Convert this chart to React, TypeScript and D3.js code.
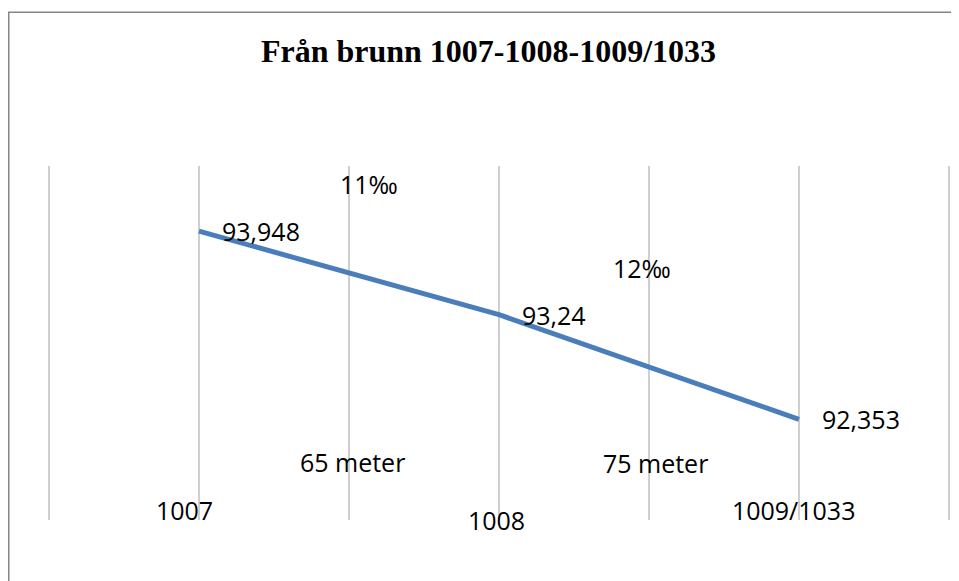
import React from "react";
import * as d3 from "d3";

// Brunnar längs ledningen och bottennivå (m)
const wells = ["1007", "1008", "1009/1033"];
const positions = [1, 3, 5];
const levels = [93.948, 93.24, 92.353];

// Fria textetiketter (x i brunnsteg, y i meter)
const noteTexts = ["11‰", "12‰", "65 meter", "75 meter", "1007", "1008", "1009/1033"];
const noteX = [1.94, 3.76, 1.673, 3.693, 0.713, 2.793, 4.553];
const noteY = [94.263, 93.551, 91.907, 91.898, 91.5, 91.415, 91.5];

const gridSteps = [0, 1, 2, 3, 4, 5, 6];

const width = 951;
const height = 573;
const plot = { left: 41, right: 941, top: 158, bottom: 512 };
const labelFont = "'Open Sans', 'Noto Sans', sans-serif";

export default function App() {
  const x = d3.scaleLinear().domain([0, 6]).range([plot.left, plot.right]);
  const y = d3.scaleLinear().domain([91.5, 94.5]).range([plot.bottom, plot.top]);

  const points = positions.map((p, i) => ({ x: p, v: levels[i], name: wells[i] }));
  const line = d3
    .line<{ x: number; v: number }>()
    .x((d) => x(d.x))
    .y((d) => y(d.v));

  return (
    <svg width={width} height={height} style={{ display: "block" }}>
      <rect x={0.75} y={4.25} width={width + 20} height={height + 20} fill="#fff" stroke="#868686" strokeWidth={1.5} />
      <text
        x={480.5}
        y={54}
        textAnchor="middle"
        fontFamily="'Liberation Serif', 'Times New Roman', serif"
        fontWeight="bold"
        fontSize={32}
        fill="#000"
      >
        Från brunn 1007-1008-1009/1033
      </text>

      {/* vertikala stödlinjer */}
      {gridSteps.map((g) => (
        <line key={g} x1={x(g)} x2={x(g)} y1={y(94.5)} y2={y(91.5)} stroke="#bfbfbf" strokeWidth={1.5} />
      ))}

      <path d={line(points) || ""} fill="none" stroke="#4a7ebb" strokeWidth={5} strokeLinejoin="round" />

      {points.map((d) => (
        <text key={d.name} x={x(d.x) + 23} y={y(d.v) + 10} fontFamily={labelFont} fontSize={25} fill="#000">
          {String(d.v).replace(".", ",")}
        </text>
      ))}

      {noteTexts.map((t, i) => (
        <text key={t} x={x(noteX[i])} y={y(noteY[i])} fontFamily={labelFont} fontSize={25} fill="#000">
          {t}
        </text>
      ))}
    </svg>
  );
}
